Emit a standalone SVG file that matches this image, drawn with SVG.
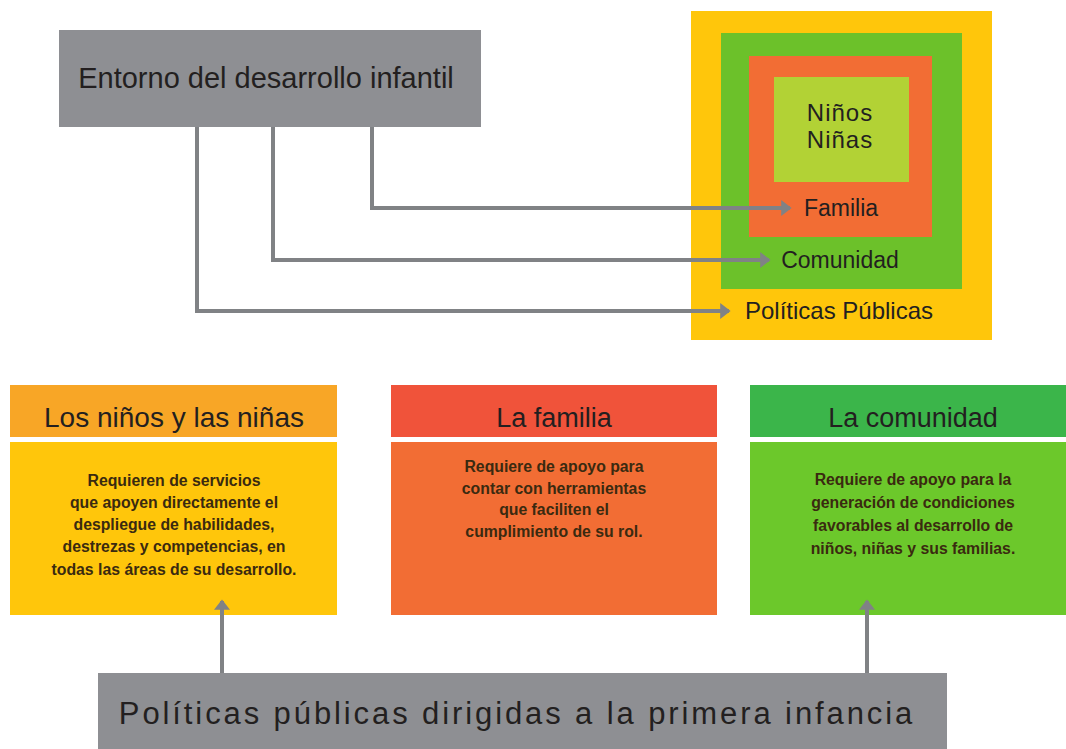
<svg xmlns="http://www.w3.org/2000/svg" width="1066" height="749" viewBox="0 0 1066 749">
<defs>
<style>
text{font-family:"Liberation Sans","DejaVu Sans",sans-serif;fill:#231f20;text-anchor:middle}
.conn{fill:none;stroke:#808285;stroke-width:4}
.lbl{font-size:23px}
.body{font-size:15.8px;font-weight:bold;fill:#3a2a10}
.head{font-size:27px}
</style>
<marker id="ah" markerWidth="4" markerHeight="4" refX="2.2" refY="2" orient="auto" markerUnits="strokeWidth">
<path d="M0,0 L2.6,2 L0,4 Z" fill="#808285"/>
</marker>
</defs>
<rect width="1066" height="749" fill="#ffffff"/>

<g id="entorno">
<rect x="59" y="30" width="422" height="97" fill="#8e8f93"/>
<text x="266" y="88" style="font-size:29px">Entorno del desarrollo infantil</text>
</g>

<g id="nested">
<rect x="691" y="11" width="301" height="329" fill="#ffc60b"/>
<rect x="721" y="33" width="241" height="256" fill="#6cc12a"/>
<rect x="749" y="56" width="183" height="181" fill="#f26d34"/>
<rect x="774" y="77" width="135" height="105" fill="#b2d235"/>
<text x="840" y="121" style="font-size:24px;letter-spacing:1px">Niños</text>
<text x="840" y="148" style="font-size:24px;letter-spacing:1px">Niñas</text>
<text x="841" y="216" class="lbl">Familia</text>
<text x="840" y="268" class="lbl">Comunidad</text>
<text x="839" y="319" style="font-size:24px">Políticas Públicas</text>
</g>

<g id="ninos">
<rect x="10" y="385" width="327" height="52" fill="#f8a626"/>
<rect x="10" y="442" width="327" height="173" fill="#ffc60b"/>
<text x="174" y="427" class="head" style="font-size:28px">Los niños y las niñas</text>
<text x="174" y="486" class="body">Requieren de servicios</text>
<text x="174" y="508" class="body">que apoyen directamente el</text>
<text x="174" y="530" class="body">despliegue de habilidades,</text>
<text x="174" y="552" class="body">destrezas y competencias, en</text>
<text x="174" y="575" class="body">todas las áreas de su desarrollo.</text>
</g>

<g id="familia">
<rect x="391" y="385" width="326" height="52" fill="#f0533a"/>
<rect x="391" y="442" width="326" height="173" fill="#f26d34"/>
<text x="554" y="427" class="head">La familia</text>
<text x="554" y="472" class="body">Requiere de apoyo para</text>
<text x="554" y="494" class="body">contar con herramientas</text>
<text x="554" y="515" class="body">que faciliten el</text>
<text x="554" y="537" class="body">cumplimiento de su rol.</text>
</g>

<g id="comunidad">
<rect x="750" y="385" width="316" height="52" fill="#3bb54a"/>
<rect x="750" y="442" width="316" height="173" fill="#6cc82b"/>
<text x="913" y="427" class="head">La comunidad</text>
<text x="913" y="485" class="body">Requiere de apoyo para la</text>
<text x="913" y="508" class="body">generación de condiciones</text>
<text x="913" y="531" class="body">favorables al desarrollo de</text>
<text x="913" y="554" class="body">niños, niñas y sus familias.</text>
</g>

<g id="politicas">
<rect x="98" y="673" width="849" height="76" fill="#8e8f93"/>
<text x="517" y="724" style="font-size:31px;letter-spacing:2.9px">Políticas públicas dirigidas a la primera infancia</text>
</g>

<g id="connectors">
<polyline class="conn" points="372,127 372,208 790,208" marker-end="url(#ah)"/>
<polyline class="conn" points="273,127 273,260 769,260" marker-end="url(#ah)"/>
<polyline class="conn" points="197,127 197,311 729,311" marker-end="url(#ah)"/>
<line class="conn" x1="222" y1="673" x2="222" y2="601" marker-end="url(#ah)"/>
<line class="conn" x1="867" y1="673" x2="867" y2="601" marker-end="url(#ah)"/>
</g>
</svg>
